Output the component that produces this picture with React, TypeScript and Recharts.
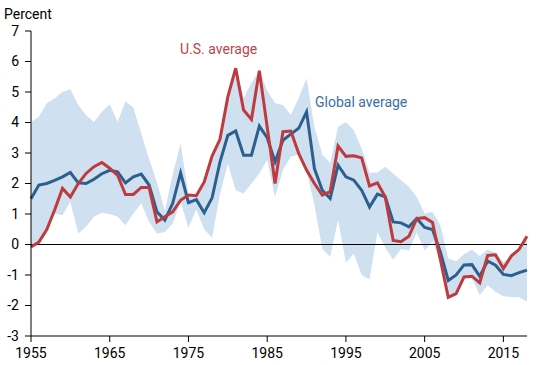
import {
  Area,
  ComposedChart,
  Line,
  ReferenceLine,
  XAxis,
  YAxis,
} from "recharts";

const years = [
  1955, 1956, 1957, 1958, 1959, 1960, 1961, 1962, 1963, 1964, 1965, 1966,
  1967, 1968, 1969, 1970, 1971, 1972, 1973, 1974, 1975, 1976, 1977, 1978,
  1979, 1980, 1981, 1982, 1983, 1984, 1985, 1986, 1987, 1988, 1989, 1990,
  1991, 1992, 1993, 1994, 1995, 1996, 1997, 1998, 1999, 2000, 2001, 2002,
  2003, 2004, 2005, 2006, 2007, 2008, 2009, 2010, 2011, 2012, 2013, 2014,
  2015, 2016, 2017, 2018,
];

// U.S. average
const usAvg = [
  -0.08, 0.08, 0.49, 1.13, 1.84, 1.56, 2.0, 2.33, 2.55, 2.69, 2.5, 2.27,
  1.64, 1.64, 1.87, 1.87, 0.74, 0.91, 1.07, 1.45, 1.62, 1.6, 2.05, 2.9,
  3.45, 4.84, 5.78, 4.41, 4.1, 5.7, 3.85, 2.0, 3.7, 3.72, 2.99, 2.44,
  2.0, 1.62, 1.73, 3.23, 2.89, 2.91, 2.84, 1.92, 2.02, 1.56, 0.13, 0.09,
  0.27, 0.85, 0.88, 0.72, -0.5, -1.73, -1.61, -1.06, -1.04, -1.26, -0.36, -0.34,
  -0.79, -0.38, -0.16, 0.27,
];

// Global average
const globalAvg = [
  1.5, 1.95, 2.0, 2.1, 2.22, 2.36, 2.02, 2.0, 2.14, 2.32, 2.43, 2.38,
  2.02, 2.22, 2.31, 1.95, 1.07, 0.8, 1.35, 2.35, 1.37, 1.47, 1.04, 1.53,
  2.7, 3.58, 3.72, 2.93, 2.93, 3.88, 3.5, 2.71, 3.42, 3.62, 3.81, 4.35,
  2.49, 1.78, 1.51, 2.6, 2.22, 2.11, 1.78, 1.23, 1.65, 1.56, 0.74, 0.71,
  0.58, 0.85, 0.56, 0.49, -0.25, -1.18, -1.0, -0.67, -0.66, -1.04, -0.54, -0.68,
  -0.98, -1.02, -0.92, -0.84,
];

// range across countries
const rangeHigh = [
  4.02, 4.19, 4.63, 4.79, 5.01, 5.09, 4.57, 4.24, 4.02, 4.35, 4.6, 4.02,
  4.7, 4.48, 3.64, 2.8, 2.05, 1.1, 2.3, 3.3, 1.65, 1.65, 2.05, 2.95,
  3.45, 4.9, 5.8, 4.8, 5.3, 5.7, 5.06, 4.63, 4.57, 4.25, 4.8, 5.45,
  3.85, 2.95, 2.66, 3.86, 4.02, 3.75, 3.15, 2.35, 2.36, 2.55, 2.33, 2.11,
  1.89, 1.56, 1.02, 1.07, 0.63, -0.46, -0.55, -0.32, -0.16, -0.38, -0.16, -0.27,
  -0.57, -0.41, -0.13, 0.27,
];

const rangeLow = [
  -0.08, 0.08, 0.49, 1.02, 0.96, 1.4, 0.36, 0.58, 0.91, 1.04, 1.0, 0.91,
  0.63, 1.02, 1.35, 0.74, 0.36, 0.41, 0.69, 1.4, 0.55, 1.15, 0.5, 0.22,
  1.65, 2.65, 1.78, 1.67, 2.0, 2.33, 2.77, 1.56, 2.44, 2.88, 2.95, 2.4,
  1.3, -0.15, -0.4, 0.8, -0.6, -0.3, -1.0, -1.15, 0.4, -0.1, -0.5, -0.15,
  -0.2, 0.4, -0.2, 0.1, -0.6, -1.78, -1.68, -1.15, -1.1, -1.66, -1.34, -1.55,
  -1.7, -1.72, -1.72, -1.88,
];

const xTicks = [1955, 1965, 1975, 1985, 1995, 2005, 2015];
const yTicks = [-3, -2, -1, 0, 1, 2, 3, 4, 5, 6, 7];

const data = years.map((year, i) => ({
  year,
  us: usAvg[i],
  global: globalAvg[i],
  band: [rangeLow[i], rangeHigh[i]],
}));

const RED = "#be3a3c";
const BLUE = "#2d5f8e";
const BAND = "#cfe0f1";

export default function App() {
  return (
    <div
      style={{
        position: "absolute",
        left: 0,
        top: 0,
        width: 550,
        height: 365,
        fontFamily: "Roboto, sans-serif",
        background: "#fff",
      }}
    >
      <ComposedChart
        width={550}
        height={365}
        data={data}
        margin={{ top: 31, right: 23, left: 0, bottom: 0 }}
      >
        <XAxis
          dataKey="year"
          type="number"
          domain={[1955, 2018]}
          ticks={xTicks}
          interval={0}
          height={29}
          tickSize={6}
          tickMargin={6}
          stroke="#000"
          tick={{ fill: "#000", fontSize: 14 }}
        />
        <YAxis
          type="number"
          domain={[-3, 7]}
          ticks={yTicks}
          interval={0}
          width={31}
          tickSize={6}
          tickMargin={6}
          stroke="#000"
          tick={{ fill: "#000", fontSize: 14 }}
        />
        <Area
          dataKey="band"
          type="linear"
          stroke="none"
          fill={BAND}
          fillOpacity={1}
          isAnimationActive={false}
        />
        <ReferenceLine y={0} stroke="#000" strokeWidth={1} />
        <Line
          dataKey="global"
          type="linear"
          stroke={BLUE}
          strokeWidth={3}
          dot={false}
          isAnimationActive={false}
        />
        <Line
          dataKey="us"
          type="linear"
          stroke={RED}
          strokeWidth={3}
          dot={false}
          isAnimationActive={false}
        />
      </ComposedChart>
      <svg
        width={550}
        height={365}
        style={{ position: "absolute", left: 0, top: 0, pointerEvents: "none" }}
      >
        <text x={4} y={18.5} fontSize={14} fill="#000">
          Percent
        </text>
        <text x={180} y={53.5} fontSize={14} fill="#c0434a">
          U.S. average
        </text>
        <text x={315} y={106.5} fontSize={14} fill="#3a6ea6">
          Global average
        </text>
      </svg>
    </div>
  );
}
